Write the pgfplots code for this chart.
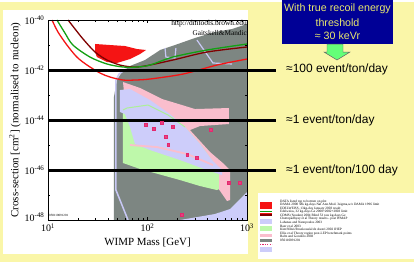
\documentclass[border=0pt]{standalone}
\usepackage{fontspec}
\setmainfont{Liberation Serif}
\newfontfamily\arial{Liberation Sans}
\usepackage{pgfplots}
\pgfplotsset{compat=1.18}
\definecolor{bgyellow}{RGB}{250,246,168}
\definecolor{grayreg}{RGB}{125,134,130}
\definecolor{lav}{RGB}{205,205,250}
\definecolor{lavline}{RGB}{200,200,245}
\definecolor{pinkreg}{RGB}{250,190,205}
\definecolor{greenreg}{RGB}{190,248,170}
\definecolor{greenline}{RGB}{172,240,150}
\definecolor{dmred}{RGB}{245,20,20}
\definecolor{dmgreen}{RGB}{20,160,20}
\definecolor{dmmaroon}{RGB}{128,0,0}
\definecolor{boxblue}{RGB}{0,0,150}
\definecolor{boxtext}{RGB}{232,232,110}
\definecolor{arrowgreen}{RGB}{100,255,120}
\definecolor{markc}{RGB}{228,40,110}
\definecolor{markfill}{RGB}{245,170,200}
\begin{document}
\begin{tikzpicture}
\begin{scope}[x=1bp,y=-1bp]
\useasboundingbox (0,0) rectangle (414,260);
\fill[bgyellow] (0,0) rectangle (414,260);
\fill[white] (3,8) rectangle (248,252);
\fill[white] (258,191) rectangle (414,257);
\end{scope}
\begin{axis}[at={(48bp,-218bp)}, anchor=south west, scale only axis,
  width=199bp, height=200bp,
  xmode=log, ymode=log, xmin=10, xmax=1000, ymin=1e-48, ymax=1e-40,
  clip=false, axis on top,
  axis line style={line width=0.5pt},
  xtick={10,100,1000},
  xticklabels={10\textsuperscript{1},10\textsuperscript{2},10\textsuperscript{3}},
  minor xtick={20,30,40,50,60,70,80,90,200,300,400,500,600,700,800,900},
  ytick={1e-48,1e-46,1e-44,1e-42,1e-40},
  yticklabels={\raisebox{6bp}{10\textsuperscript{-48}},10\textsuperscript{-46},10\textsuperscript{-44},10\textsuperscript{-42},10\textsuperscript{-40}},
  minor ytick={1e-47,1e-45,1e-43,1e-41},
  major tick length=3bp, minor tick length=2bp,
  tick style={line width=0.4pt, black},
  tick label style={font=\fontsize{10}{10}\selectfont},
  xlabel={WIMP Mass [GeV]},
  ylabel={Cross-section [cm\textsuperscript{2}] (normalised to nucleon)},
  label style={font=\fontsize{11}{12}\selectfont},
  xlabel style={at={(axis description cs:0.5,-0.11)}, anchor=center},
  ylabel style={at={(axis description cs:-0.166,0.5)}, anchor=center},
]
% grey region (Kim et al)
\addplot[fill=grayreg, draw=none] coordinates {(46.0,1e-48) (46.0,8.32e-44) (49.3,3.98e-43) (55.4,8.32e-43) (66.7,1.45e-42) (94.4,2.51e-42) (134,6.31e-42) (189,1e-41) (300,1.91e-41) (476,3.31e-41) (707,4.37e-41) (1000,6.92e-41) (1000,1e-48)};
% pink region
\addplot[fill=pinkreg, draw=none] coordinates {(56.7,3.31e-43) (84.1,1.91e-43) (140,6.92e-44) (222,3.98e-44) (300,2.75e-44) (659,3.02e-44) (659,6.92e-45) (337,5.75e-45) (267,3.98e-45) (425,5.25e-46) (587,1.74e-46) (675,1e-46) (675,6.31e-48) (630,5.75e-48) (511,1.91e-47) (445,8.32e-47) (337,3.31e-46) (238,2.09e-45) (176,1e-44) (59.4,5.25e-44)};
% green region
\addplot[fill=greenreg, draw=none] coordinates {(56.7,2.51e-44) (62.2,3.02e-44) (101,3.98e-44) (161,1.58e-44) (238,5.25e-45) (337,1.10e-45) (445,2.51e-46) (523,8.32e-47) (523,1.74e-47) (499,1.58e-47) (337,2.29e-47) (212,3.98e-47) (84.1,1.10e-46) (56.7,1.91e-46)};
% lavender region
\addplot[fill=lav, draw=none] coordinates {(52.9,1.58e-43) (66.7,1.74e-43) (106,6.31e-44) (168,1.74e-44) (238,5.25e-45) (337,1.10e-45) (445,2.51e-46) (561,1e-46) (561,6.31e-47) (396,1e-46) (212,2.51e-46) (106,6.31e-46) (74.8,1.10e-45) (66.7,5.25e-45) (59.4,1.74e-44) (52.9,2.09e-44)};
% green outline
\addplot[greenline, line width=1bp] coordinates {(56.7,2.51e-44) (62.2,3.02e-44) (101,3.98e-44) (161,1.58e-44) (238,5.25e-45)};
% pink lines
\addplot[pinkreg, line width=1.8bp] coordinates {(66.7,1e-45) (124,8.32e-46) (250,4.37e-46) (455,1.58e-46)};
% lavender outlines
\addplot[lavline, line width=1.5bp] coordinates {(63.7,1e-48) (48.2,1.58e-47) (48.2,3.98e-43) (51.8,6.92e-43) (60.8,1.10e-42)};
\addplot[lavline, line width=1.2bp] coordinates {(150,7.59e-42) (153,3.31e-42) (189,3.02e-42) (193,7.59e-42)};
\addplot[lavline, line width=1.2bp] coordinates {(314,1.58e-41) (455,1.91e-42) (707,1.74e-42)};
\addplot[fill=lav, draw=none] coordinates {(212,1e-48) (476,1.74e-48) (675,2.75e-48) (851,6.92e-48) (1000,1.32e-47) (1000,1e-48)};
% DAMA
\addplot[fill=dmred, draw=none] coordinates {(29.7,1.10e-41) (42.0,1e-41) (59.4,9.12e-42) (78.3,6.92e-42) (96.6,6.31e-42) (84.1,4.37e-42) (66.7,2.75e-42) (49.3,1.91e-42) (39.2,2.09e-42) (31.0,3.31e-42) (29.7,5.25e-42)};
% limit curves
\addplot[dmmaroon, line width=1.3bp, smooth] coordinates {(15.9,1e-40) (18.7,4.37e-41) (22.5,1.74e-41) (29.7,5.25e-42) (39.2,2.51e-42) (52.9,1.58e-42) (71.5,1.32e-42) (94.4,1.45e-42) (180,2.51e-42) (396,5.25e-42) (1000,8.32e-42)};
\addplot[dmgreen, line width=1.3bp, smooth] coordinates {(12.3,1e-40) (14.8,3.02e-41) (17.8,1e-41) (26.4,3.31e-42) (39.2,1.74e-42) (56.7,1.32e-42) (78.3,1.32e-42) (106,1.58e-42) (180,3.31e-42) (396,6.31e-42) (1000,1.10e-41)};
\addplot[dmred, line width=1.3bp, smooth] coordinates {(10.97,1e-40) (12.6,3.31e-41) (15.5,1e-41) (19.5,3.31e-42) (24.7,1.58e-42) (33.3,7.59e-43) (42.0,5.25e-43) (56.7,3.98e-43) (74.8,3.98e-43) (106,4.37e-43) (228,6.92e-43) (499,1.58e-42) (1000,2.75e-42)};
% Ellis et al benchmark points
\addplot[only marks, mark=square*, mark size=1.4bp, draw=markc, fill=markfill, mark options={line width=0.35pt}] coordinates {(96.6,6.31e-45) (116,4.37e-45) (140,7.59e-45) (180,5.25e-45) (153,2.09e-45) (161,1e-45) (250,3.98e-46) (314,3.02e-46) (435,3.98e-45) (659,3.02e-47) (851,3.02e-47) (222,1.58e-48)};
\addplot[only marks, mark=x, mark size=1.3bp, markc, mark options={line width=0.55pt}] coordinates {(96.6,6.31e-45) (116,4.37e-45) (140,7.59e-45) (180,5.25e-45) (153,2.09e-45) (161,1e-45) (250,3.98e-46) (314,3.02e-46) (435,3.98e-45) (659,3.02e-47) (851,3.02e-47) (222,1.58e-48)};
% event-rate lines
\addplot[black, line width=3bp] coordinates {(10,1e-42) (1955,1e-42)};
\addplot[black, line width=3bp] coordinates {(10,1e-44) (1955,1e-44)};
\addplot[black, line width=3bp] coordinates {(10,1e-46) (1955,1e-46)};
\end{axis}
\begin{scope}[x=1bp,y=-1bp]
\node[anchor=east, inner sep=0pt, font=\fontsize{7.5}{8}\selectfont] at (247,22) {http://dmtools.brown.edu};
\node[anchor=east, inner sep=0pt, font=\fontsize{7.3}{8}\selectfont] at (247,31) {Gaitskell\&Mandic};
\node[anchor=west, inner sep=0pt, font=\fontsize{3.2}{3.5}\selectfont] at (49,213) {050110091201};
% right annotations
\node[anchor=west, inner sep=0pt, font=\arial\fontsize{12}{13}\selectfont] at (286,67) {≈100 event/ton/day};
\node[anchor=west, inner sep=0pt, font=\arial\fontsize{12}{13}\selectfont] at (286,118) {≈1 event/ton/day};
\node[anchor=west, inner sep=0pt, font=\arial\fontsize{12}{13}\selectfont] at (286,168) {≈1 event/ton/100 day};
% blue box
\fill[boxblue] (282,-2) rectangle (393,42);
\node[boxtext, inner sep=0pt, font=\arial\fontsize{10.7}{12}\selectfont] at (337.5,7) {With true recoil energy};
\node[boxtext, inner sep=0pt, font=\arial\fontsize{10.7}{12}\selectfont] at (337.5,20.5) {threshold};
\node[boxtext, inner sep=0pt, font=\arial\fontsize{10.7}{12}\selectfont] at (337.5,34) {≈ 30 keVr};
\filldraw[fill=arrowgreen, draw=black!60, line width=0.5pt] (327,42) -- (343,42) -- (343,50) -- (350,50) -- (337,58) -- (324,50) -- (327,50) -- cycle;
% legend panel
\fill[dmred] (260,200) rectangle (272,207);
\draw[dmgreen, line width=1bp] (260,209) -- (272,209);
\draw[dmred, line width=1bp] (260,211) -- (272,211);
\draw[dmmaroon, line width=1.4bp] (260,213) -- (272,213);
\fill[lav] (260,217) rectangle (272,222);
\fill[greenreg] (260,224) rectangle (272,229);
\fill[pinkreg] (260,232) rectangle (272,235);
\fill[grayreg] (260,237) rectangle (272,240);
\draw[markc, line width=1.2bp, dash pattern=on 1.2bp off 1.2bp] (260,242.5) -- (272,242.5);
\fill[lav] (260,245) rectangle (272,250);
\node[anchor=north west, inner sep=0pt, align=left, font=\fontsize{3.4}{3.6}\selectfont] at (280,197.5) {DATA listed top to bottom on plot\\
DAMA 2000 58k kg-days NaI Ann.Mod. 3sigma,w/o DAMA 1996 limit\\
EDELWEISS, 13kg-day January 2003 result\\
Edelweiss, 32 kg-days Ge 2000+2002+2003 limit\\
CDMS (Soudan) 2004 Blind 53 raw kg-days Ge\\
Chattopadhyay et al Theory results - post WMAP\\
Lahanas and Nanopoulos 2003\\
Baer et al 2003\\
Kim/Nihei/Roszkowski/de Austri 2002 JHEP\\
Ellis et al Theory region post-LEP benchmark points\\
Baltz and Gondolo 2003\\
050110091201};
\end{scope}
\end{tikzpicture}
\end{document}
